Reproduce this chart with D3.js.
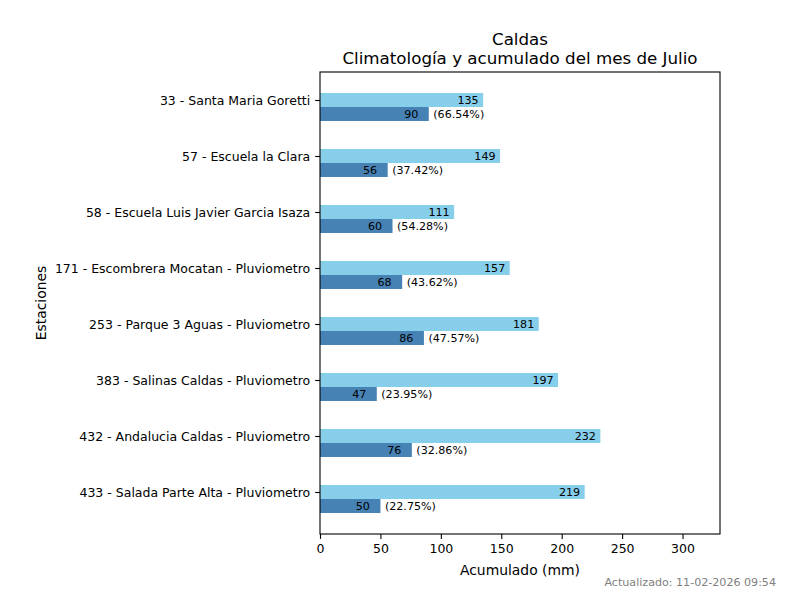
<!DOCTYPE html>
<html>
<head>
<meta charset="utf-8">
<script src="https://cdn.jsdelivr.net/npm/d3@7"></script>
<style>
body{margin:0;background:#fff;}
svg{display:block;font-family:"DejaVu Sans",sans-serif;}
</style>
</head>
<body>
<svg id="chart" width="800" height="600"></svg>
<script>
const stations = [
  "33 - Santa Maria Goretti",
  "57 - Escuela la Clara",
  "58 - Escuela Luis Javier Garcia Isaza",
  "171 - Escombrera Mocatan - Pluviometro",
  "253 - Parque 3 Aguas - Pluviometro",
  "383 - Salinas Caldas - Pluviometro",
  "432 - Andalucia Caldas - Pluviometro",
  "433 - Salada Parte Alta - Pluviometro"
];
const climatology = [135, 149, 111, 157, 181, 197, 232, 219];
const accumulated = [90, 56, 60, 68, 86, 47, 76, 50];
const percents = ["66.54", "37.42", "54.28", "43.62", "47.57", "23.95", "32.86", "22.75"];
const xTicks = [0, 50, 100, 150, 200, 250, 300];

const svg = d3.select("#chart");
const L = 320, R = 720, T = 72, B = 534;
const barH = 0.25;
const tickFont = "12.5px", labelFont = "13.9px", smallFont = "11.1px";

const x = d3.scaleLinear().domain([0, 331]).range([L, R]);
const y = d3.scaleLinear().domain([-0.5, stations.length - 1 + 0.75]).range([T, B]);

const g = svg.append("g");

stations.forEach((s, i) => {
  g.append("rect")
    .attr("x", x(0)).attr("y", y(i - barH / 2))
    .attr("width", x(climatology[i]) - x(0)).attr("height", y(barH) - y(0))
    .attr("fill", "#87CEEB");
  g.append("rect")
    .attr("x", x(0)).attr("y", y(i + barH / 2))
    .attr("width", x(accumulated[i]) - x(0)).attr("height", y(barH) - y(0))
    .attr("fill", "#4682B4");
  g.append("text")
    .attr("x", x(climatology[i]) - 4.5).attr("y", y(i))
    .attr("dy", "0.36em").attr("text-anchor", "end")
    .attr("font-size", smallFont).attr("fill", "#000")
    .text(climatology[i]);
  g.append("text")
    .attr("x", x(accumulated[i]) - 10.5).attr("y", y(i + barH))
    .attr("dy", "0.36em").attr("text-anchor", "end")
    .attr("font-size", smallFont).attr("fill", "#000")
    .text(accumulated[i]);
  g.append("text")
    .attr("x", x(accumulated[i]) + 4.5).attr("y", y(i + barH))
    .attr("dy", "0.36em").attr("text-anchor", "start")
    .attr("font-size", smallFont).attr("fill", "#000")
    .text("(" + percents[i] + "%)");
});

svg.append("rect").attr("x", L).attr("y", T).attr("width", R - L).attr("height", B - T)
  .attr("fill", "none").attr("stroke", "#000").attr("stroke-width", 1.1);

const xAxis = svg.append("g").attr("transform", `translate(0,${B})`)
  .call(d3.axisBottom(x).tickValues(xTicks).tickSize(4.9).tickPadding(4.9));
xAxis.select(".domain").remove();
xAxis.selectAll("text").attr("font-size", tickFont).attr("font-family", "DejaVu Sans").attr("fill", "#000");
xAxis.selectAll("line").attr("stroke", "#000").attr("stroke-width", 1.1);

const yAxis = svg.append("g").attr("transform", `translate(${L},0)`)
  .call(d3.axisLeft(y).tickValues(d3.range(stations.length)).tickFormat(i => stations[i]).tickSize(4.9).tickPadding(4.9));
yAxis.select(".domain").remove();
yAxis.selectAll("text").attr("font-size", tickFont).attr("font-family", "DejaVu Sans").attr("fill", "#000");
yAxis.selectAll("line").attr("stroke", "#000").attr("stroke-width", 1.1);

svg.append("text").attr("x", (L + R) / 2).attr("y", 45).attr("text-anchor", "middle")
  .attr("font-size", "16.7px").text("Caldas");
svg.append("text").attr("x", (L + R) / 2).attr("y", 64).attr("text-anchor", "middle")
  .attr("font-size", "16.7px").text("Climatología y acumulado del mes de Julio");

svg.append("text").attr("x", (L + R) / 2).attr("y", 575).attr("text-anchor", "middle")
  .attr("font-size", labelFont).text("Acumulado (mm)");

svg.append("text").attr("transform", `translate(46,${(T + B) / 2}) rotate(-90)`)
  .attr("text-anchor", "middle").attr("font-size", labelFont).text("Estaciones");

svg.append("text").attr("x", 776).attr("y", 586).attr("text-anchor", "end")
  .attr("font-size", smallFont).attr("fill", "#808080").text("Actualizado: 11-02-2026 09:54");
</script>
</body>
</html>
